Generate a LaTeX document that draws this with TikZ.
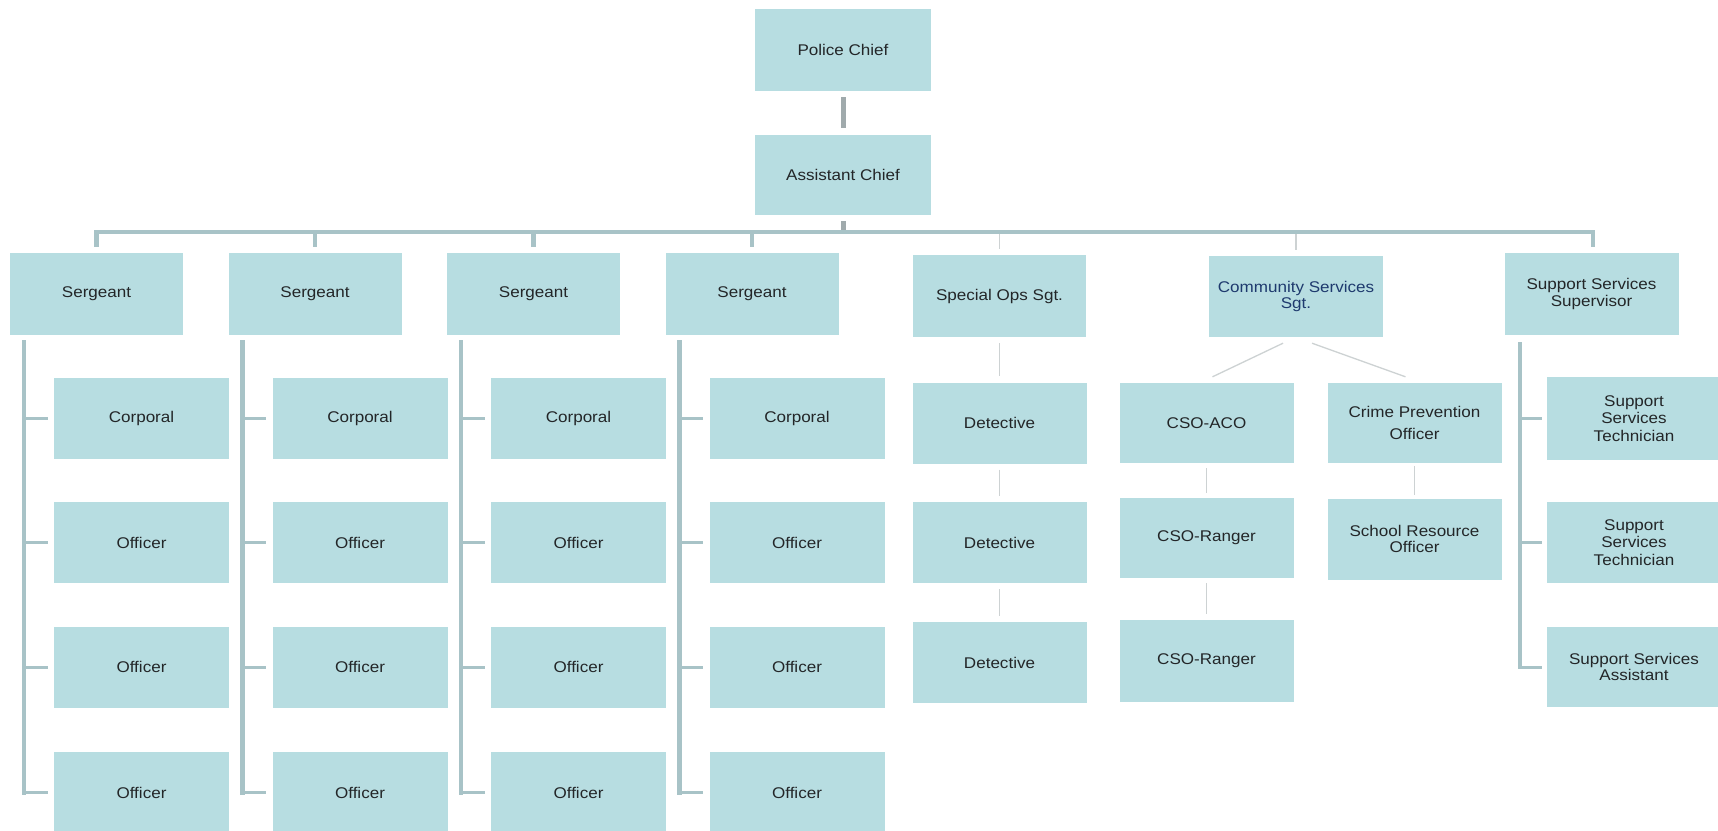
\documentclass[tikz,border=0pt]{standalone}
\usepackage{fontspec}
\setmainfont[FakeStretch=1.1]{Liberation Sans}
\usetikzlibrary{calc}
\definecolor{boxfill}{RGB}{183,221,225}
\definecolor{trunkcol}{RGB}{168,195,199}
\definecolor{graycol}{RGB}{160,170,172}
\definecolor{twigcol}{RGB}{205,210,211}
\definecolor{txt}{RGB}{35,38,40}
\definecolor{navy}{RGB}{30,58,110}
\begin{document}
\begin{tikzpicture}[x=1pt,y=-1pt,
  ubox/.style={rectangle, fill=boxfill, draw=none, minimum width=174pt, minimum height=81pt,
    inner sep=1pt, align=center, text=txt, font=\fontsize{15.5}{17.5}\selectfont},
  trunk/.style={draw=trunkcol, line width=4.5pt},
  chiefline/.style={draw=graycol, line width=5pt},
  tick/.style={draw=trunkcol, line width=3pt},
  twig/.style={draw=twigcol, line width=1.3pt}]
\useasboundingbox (0,0) rectangle (1718,830);
\fill[white] (0,0) rectangle (1718,830);
\clip (0,0) rectangle (1718,830);

% top
\node[ubox, minimum width=176pt, minimum height=82pt] (pc) at (843,50) {Police Chief};
\node[ubox, minimum width=176pt, minimum height=80pt] (ac) at (843,175) {Assistant Chief};
\coordinate (bar) at (0,232);

% sergeant columns
\foreach \i in {1,...,4}{
  \pgfmathsetmacro\cx{96.5+218.5*(\i-1)}
  \node[ubox, minimum width=173pt, minimum height=82pt] (s\i) at (\cx,294) {Sergeant};
  \foreach \j/\lab/\ry in {1/Corporal/418,2/Officer/542.5,3/Officer/667,4/Officer/792.5}{
    \node[ubox, minimum width=175pt] (c\i-\j) at (\cx+45,\ry) {\lab};
  }
  \coordinate (l\i) at ([xshift=14pt,yshift=-7pt]s\i.south west);
  \draw[trunk, line cap=rect] (l\i) -- (l\i |- c\i-4.west);
  \foreach \j in {1,...,4}{
    \draw[tick] (l\i |- c\i-\j.west) -- ([xshift=-6pt]c\i-\j.west);
  }
}

% special ops
\node[ubox, minimum width=173pt, minimum height=82pt] (so) at (999.5,296) {Special Ops Sgt.};
\node[ubox] (d1) at (999.5,423) {Detective};
\node[ubox] (d2) at (999.5,542.5) {Detective};
\node[ubox] (d3) at (999.5,662.5) {Detective};
\draw[twig] ([yshift=-6pt]so.south) -- ([yshift=6pt]d1.north);
\draw[twig] ([yshift=-6pt]d1.south) -- ([yshift=6pt]d2.north);
\draw[twig] ([yshift=-6pt]d2.south) -- ([yshift=6pt]d3.north);

% community services
\node[ubox, minimum height=81pt, text=navy] (cs) at (1296,296.5) {Community Services\\[-1pt]Sgt.};
\node[ubox, minimum height=80pt] (aco) at (1206.5,423) {CSO-ACO};
\node[ubox, minimum height=80pt] (cpo) at (1414.5,423) {Crime Prevention\\[5pt]Officer};
\node[ubox, minimum height=80pt] (r1) at (1206.5,538) {CSO-Ranger};
\node[ubox, minimum height=82pt] (r2) at (1206.5,660.5) {CSO-Ranger};
\node[ubox, minimum height=81pt] (sro) at (1414.5,539) {School Resource\\[-2pt]Officer};
\draw[twig] ([xshift=-13pt,yshift=-6pt]cs.south) -- ([xshift=6pt,yshift=6pt]aco.north);
\draw[twig] ([xshift=16pt,yshift=-6pt]cs.south) -- ([xshift=-9pt,yshift=6pt]cpo.north);
\draw[twig] ([yshift=-5pt]aco.south) -- ([yshift=5pt]r1.north);
\draw[twig] ([yshift=-5pt]r1.south) -- ([yshift=5pt]r2.north);
\draw[twig] ([yshift=-3pt]cpo.south) -- ([yshift=3pt]sro.north);

% support services
\node[ubox, minimum height=82pt] (ss) at (1591.5,294) {Support Services\\[-1pt]Supervisor};
\node[ubox, minimum height=83pt] (st1) at (1634,418.5) {Support\\Services\\Technician};
\node[ubox] (st2) at (1634,542.5) {Support\\Services\\Technician};
\node[ubox, minimum height=80pt] (sa) at (1634,667) {Support Services\\[-2pt]Assistant};
\coordinate (ls) at ([xshift=15.5pt,yshift=-9pt]ss.south west);
\draw[trunk, line cap=rect] (ls) -- (ls |- sa.west);
\foreach \n in {st1,st2,sa}{
  \draw[tick] (ls |- \n.west) -- ([xshift=-5pt]\n.west);
}

% top connectors
\draw[twig] (so.north |- bar) -- ([yshift=6pt]so.north);
\draw[twig] (cs.north |- bar) -- ([yshift=6pt]cs.north);
\draw[chiefline] ([yshift=-6pt]pc.south) -- ([yshift=7pt]ac.north);
\draw[chiefline] ([yshift=-6pt]ac.south) -- (ac.south |- bar);
\draw[trunk, line join=miter] ([yshift=6pt]s1.north) -- (s1.north |- bar) -- ([xshift=1.5pt]ss.north |- bar) -- ([xshift=1.5pt,yshift=6pt]ss.north);
\foreach \i in {2,3,4}{
  \draw[trunk] (s\i.north |- bar) -- ([yshift=6pt]s\i.north);
}
\end{tikzpicture}
\end{document}
